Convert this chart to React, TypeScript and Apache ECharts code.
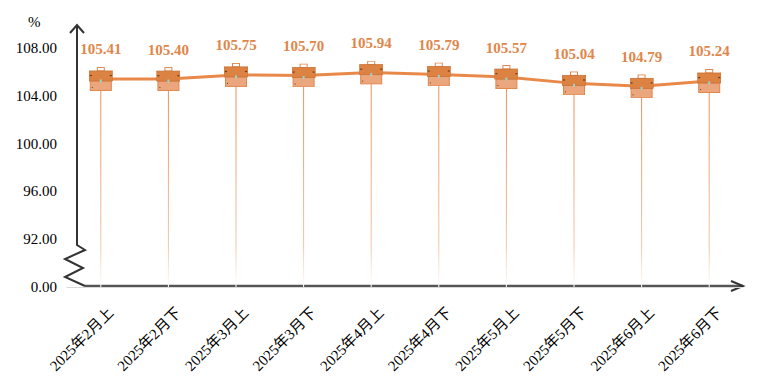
import React, { useEffect, useRef } from "react";
import * as echarts from "echarts";

const categories = [
  "2025年2月上", "2025年2月下", "2025年3月上", "2025年3月下", "2025年4月上",
  "2025年4月下", "2025年5月上", "2025年5月下", "2025年6月上", "2025年6月下",
];
const values = [105.41, 105.4, 105.75, 105.7, 105.94, 105.79, 105.57, 105.04, 104.79, 105.24];
const yTicks = [88, 92, 96, 100, 104, 108];

const SERIF = "'Liberation Serif', 'Times New Roman', 'Noto Sans CJK SC', serif";

const briefcaseSvg = `<svg xmlns="http://www.w3.org/2000/svg" width="24" height="24" viewBox="0 0 24 24">
<rect x="8.5" y="0.5" width="7" height="3.5" fill="none" stroke="#e0864a" stroke-width="1"/>
<rect x="1.5" y="14" width="21" height="9.5" fill="#eca67e" stroke="#e0864a" stroke-width="1"/>
<rect x="0" y="4" width="24" height="10" fill="#dc8242" stroke="#c9743a" stroke-width="0.8"/>
<rect x="1" y="8" width="2" height="1.2" fill="#6e3a18"/>
<rect x="21" y="8" width="2" height="1.2" fill="#6e3a18"/>
<rect x="11" y="12.5" width="2" height="3" fill="#9fd3c9"/>
<rect x="3" y="20" width="1" height="1" fill="#6e3a18"/>
</svg>`;
const markerSymbol = "image://data:image/svg+xml;charset=utf-8," + encodeURIComponent(briefcaseSvg);

export default function App() {
  const ref = useRef<HTMLDivElement>(null);
  useEffect(() => {
    document.body.style.margin = "0";
    if (!ref.current) return;
    const chart = echarts.init(ref.current, null, { renderer: "svg" });
    const axisColor = "#333333";
    chart.setOption({
      animation: false,
      backgroundColor: "#ffffff",
      grid: { left: 67, right: 23, top: 48, bottom: 100, containLabel: false },
      graphic: [
        {
          type: "polyline",
          z: 0,
          shape: {
            points: [[77, 25], [77, 245], [85, 250], [65, 259], [83, 268], [65, 277], [85, 286]],
          },
          style: { stroke: axisColor, lineWidth: 2, fill: "none" },
        },
        {
          type: "polyline",
          z: 0,
          shape: { points: [[70, 33], [77, 25], [84, 33]] },
          style: { stroke: axisColor, lineWidth: 2, fill: "none" },
        },
        {
          type: "line",
          z: 0,
          shape: { x1: 85, y1: 286, x2: 743, y2: 286 },
          style: { stroke: "#555555", lineWidth: 2.5 },
        },
        {
          type: "polyline",
          z: 0,
          shape: { points: [[731, 281], [743, 286], [731, 291]] },
          style: { stroke: axisColor, lineWidth: 2, fill: "none" },
        },
        {
          type: "text",
          left: 28,
          top: 14,
          style: { text: "%", font: `15px ${SERIF}`, fill: "#000000" },
        },
      ],
      xAxis: {
        type: "category",
        data: categories,
        boundaryGap: true,
        axisLine: { show: true, lineStyle: { color: "#d9d9d9", width: 1 } },
        axisTick: { show: false },
        splitLine: { show: false },
        axisLabel: {
          rotate: 45,
          interval: 0,
          margin: 33,
          padding: [0, -14, 0, 0],
          fontSize: 15,
          fontFamily: SERIF,
          color: "#000000",
        },
      },
      yAxis: {
        type: "value",
        min: 88,
        max: 108,
        interval: 4,
        axisLine: { show: false },
        axisTick: { show: false },
        splitLine: { show: false },
        axisLabel: {
          margin: 10,
          fontSize: 15,
          fontFamily: SERIF,
          color: "#000000",
          formatter: (v: number) => (v === yTicks[0] ? "0.00" : v.toFixed(2)),
        },
      },
      series: [
        {
          type: "bar",
          data: values,
          barWidth: 1,
          z: 2,
          itemStyle: {
            color: new echarts.graphic.LinearGradient(0, 0, 0, 1, [
              { offset: 0, color: "#e68c50" },
              { offset: 0.8, color: "#f3c5a6" },
              { offset: 1, color: "#ffffff" },
            ]),
          },
        },
        {
          type: "line",
          data: values,
          z: 3,
          symbol: markerSymbol,
          symbolSize: [24, 24],
          showAllSymbol: true,
          lineStyle: { color: "#e8894a", width: 3 },
          itemStyle: { color: "#e8894a" },
          label: {
            show: true,
            position: "top",
            distance: 10,
            fontSize: 15,
            fontWeight: "bold",
            fontFamily: SERIF,
            color: "#e0864a",
            formatter: (p: any) => Number(p.value).toFixed(2),
          },
        },
      ],
    });
    return () => chart.dispose();
  }, []);
  return <div ref={ref} style={{ width: 766, height: 387 }} />;
}
